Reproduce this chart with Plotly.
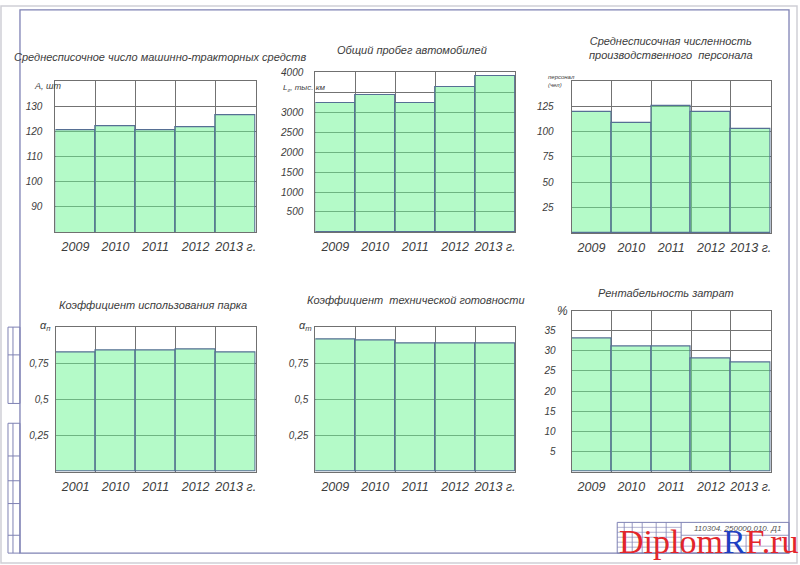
import plotly.graph_objects as go

W, H = 800, 565

# Data
years = ["2009", "2010", "2011", "2012", "2013 г."]
years_park = ["2001", "2010", "2011", "2012", "2013 г."]

machines = [120.5, 122, 120.3, 121.5, 126.5]
mileage = [3220, 3420, 3220, 3620, 3900]
staff = [119, 108.5, 125.5, 119.5, 103]
park_use = [0.83, 0.84, 0.84, 0.85, 0.83]
tech_ready = [0.92, 0.91, 0.89, 0.89, 0.89]
profit = [33, 31, 31, 28, 27]

machines_ticks = [90, 100, 110, 120, 130, 140]
machines_labels = ["90", "100", "110", "120", "130", ""]
mileage_ticks = [500, 1000, 1500, 2000, 2500, 3000, 3500, 4000]
mileage_labels = ["500", "1000", "1500", "2000", "2500", "3000", "", "4000"]
staff_ticks = [25, 50, 75, 100, 125, 150]
staff_labels = ["25", "50", "75", "100", "125", ""]
coef_ticks = [0.25, 0.5, 0.75, 1.0]
coef_labels = ["0,25", "0,5", "0,75", ""]
profit_ticks = [5, 10, 15, 20, 25, 30, 35, 40]
profit_labels = ["5", "10", "15", "20", "25", "30", "35", ""]

FONT = "Liberation Sans, Arial, sans-serif"
TXT = "#3c3c3c"
FRAME = "#7f82b4"
FILL = "rgba(105,245,145,0.5)"
EDGE = "#566f94"
GRID = "#737373"


def px(x):
    return x / W


def py(y):
    return 1 - y / H


charts = [
    dict(title="Среднесписочное число машинно-тракторных средств", tx=160, ty=52,
         cats=years, vals=machines, ticks=machines_ticks, labels=machines_labels,
         rng=[80, 140], box=(55.5, 256, 77, 229), standoff=10,
         unit="А, шт", ux=32, uy=82, usize=9),
    dict(title="Общий пробег автомобилей", tx=413, ty=45,
         cats=years, vals=mileage, ticks=mileage_ticks, labels=mileage_labels,
         rng=[0, 4000], box=(315.7, 515.7, 67.7, 229), standoff=9,
         unit="L<sub>г</sub>, тыс. км", ux=281, uy=84, usize=8),
    dict(title="Среднесписочная численность<br>производственного  персонала", tx=672, ty=43,
         cats=years, vals=staff, ticks=staff_ticks, labels=staff_labels,
         rng=[0, 150], box=(572.3, 771.7, 76.7, 230), standoff=15,
         unit="персонал<br>(чел)", ux=547, uy=77, usize=6),
    dict(title="Коэффициент использования парка", tx=153, ty=303,
         cats=years_park, vals=park_use, ticks=coef_ticks, labels=coef_labels,
         rng=[0, 1], box=(55.7, 256, 325.3, 470.7), standoff=4,
         unit="α<sub>п</sub>", ux=38, uy=324, usize=11),
    dict(title="Коэффициент  технической готовности", tx=417, ty=298,
         cats=years, vals=tech_ready, ticks=coef_ticks, labels=coef_labels,
         rng=[0, 1], box=(315.7, 515.7, 325.3, 470.7), standoff=4,
         unit="α<sub>т</sub>", ux=297, uy=324, usize=11),
    dict(title="Рентабельность затрат", tx=667, ty=291,
         cats=years, vals=profit, ticks=profit_ticks, labels=profit_labels,
         rng=[0, 40], box=(572.3, 771.7, 308.3, 470.7), standoff=13,
         unit="%", ux=556, uy=309, usize=12),
]

fig = go.Figure()
annotations = []

for i, c in enumerate(charts, start=1):
    sfx = "" if i == 1 else str(i)
    x0, x1, y0, y1 = c["box"]
    pos = list(range(len(c["cats"])))
    fig.add_trace(go.Bar(
        x=pos, y=c["vals"], width=1,
        marker=dict(color=FILL, line=dict(color=EDGE, width=1.2)),
        xaxis="x" + sfx, yaxis="y" + sfx, showlegend=False,
        hoverinfo="y",
    ))
    fig.layout["xaxis" + sfx] = dict(
        domain=[px(x0), px(x1)], anchor="y" + sfx,
        range=[-0.5, len(pos) - 0.5],
        tickmode="array", tickvals=pos, ticktext=c["cats"],
        tickfont=dict(family=FONT, size=12.5, color=TXT, style="italic"),
        tickangle=0, ticks="", showgrid=False, zeroline=False,
        showline=True, mirror=True, linecolor="#707070", linewidth=1,
        ticklabelstandoff=3,
        minor=dict(tickmode="array", tickvals=[p + 0.5 for p in pos[:-1]],
                   showgrid=True, gridcolor=GRID, gridwidth=1, ticks=""),
        fixedrange=True,
    )
    fig.layout["yaxis" + sfx] = dict(
        domain=[py(y1), py(y0)], anchor="x" + sfx, range=c["rng"],
        tickmode="array", tickvals=c["ticks"], ticktext=c["labels"],
        tickfont=dict(family=FONT, size=10, color=TXT, style="italic"),
        ticks="", showgrid=True, gridcolor=GRID, gridwidth=1, zeroline=False,
        showline=True, mirror=True, linecolor="#707070", linewidth=1,
        ticklabelstandoff=c["standoff"], fixedrange=True,
    )
    annotations.append(dict(
        text=c["title"], x=px(c["tx"]), y=py(c["ty"]), xref="paper", yref="paper",
        showarrow=False, xanchor="center", yanchor="middle",
        font=dict(family=FONT, size=11, color=TXT, style="italic"),
    ))
    annotations.append(dict(
        text=c["unit"], x=px(c["ux"]), y=py(c["uy"]), xref="paper", yref="paper",
        showarrow=False, xanchor="left", yanchor="middle", align="left",
        font=dict(family=FONT, size=c["usize"], color=TXT, style="italic"),
    ))

# drawing sheet: frame, side stamp and title block
shapes = []


def line(xa, ya, xb, yb, color=FRAME, width=1):
    shapes.append(dict(type="line", xref="paper", yref="paper",
                       x0=px(xa), y0=py(ya), x1=px(xb), y1=py(yb),
                       line=dict(color=color, width=width)))


def rect(xa, ya, xb, yb, color=FRAME, width=1):
    shapes.append(dict(type="rect", xref="paper", yref="paper",
                       x0=px(xa), y0=py(ya), x1=px(xb), y1=py(yb),
                       line=dict(color=color, width=width)))


rect(1, 1, 798, 563, color="#cfcfd6", width=1.5)
rect(20, 5, 790, 553, width=1.3)

# left stamp strip
rect(8, 325, 20, 402)
line(13, 325, 13, 402)
line(8, 353, 20, 353)
rect(8, 422, 20, 553)
line(13, 422, 13, 553)
for yy in [455, 480, 503, 535]:
    line(8, yy, 20, yy)

# title block
rect(618, 522, 790, 553)
for xx in [625, 633, 643, 657, 667]:
    line(xx, 522, xx, 553, width=0.8)
line(682, 522, 682, 553)
for yy in [527, 532, 537, 542, 547]:
    line(618, yy, 682, yy, width=0.6)
line(682, 535, 790, 535, width=0.8)
line(747, 535, 747, 553, width=0.8)
line(682, 546, 790, 546, width=0.6)

annotations.append(dict(
    text="110304. 250000.010. Д1", x=px(738), y=py(528), xref="paper", yref="paper",
    showarrow=False, xanchor="center", yanchor="middle",
    font=dict(family=FONT, size=8, color="#555", style="italic"),
))
annotations.append(dict(
    text="<span style='color:#e3262b'>Diplom</span><span style='color:#1d3fc2'>R</span>"
         "<span style='color:#e3262b'>F.ru</span>",
    x=px(710), y=py(562), xref="paper", yref="paper",
    showarrow=False, xanchor="center", yanchor="bottom",
    font=dict(family="Liberation Serif, DejaVu Serif, serif", size=34, color="#e3262b"),
))

fig.update_layout(
    width=W, height=H,
    margin=dict(l=0, r=0, t=0, b=0),
    paper_bgcolor="white", plot_bgcolor="white",
    bargap=0, showlegend=False,
    annotations=annotations, shapes=shapes,
)

# the page's default body margin would shift the sheet by 8 px
fig.write_html("out.html", config={"displayModeBar": False},
               post_script="document.body.style.margin='0';")
